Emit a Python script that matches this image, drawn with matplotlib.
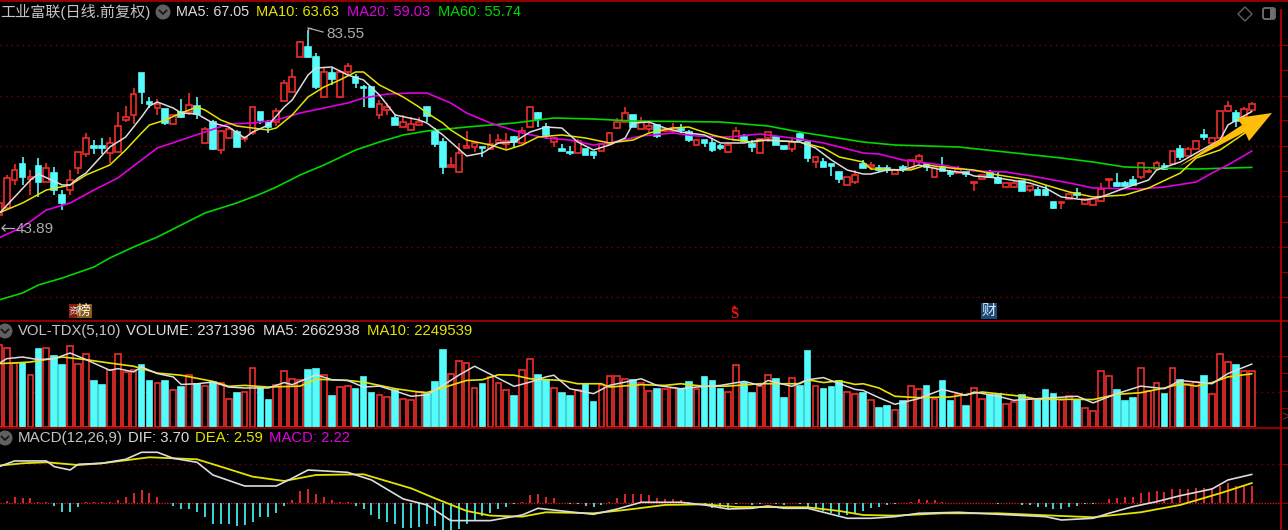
import matplotlib
matplotlib.use("Agg")
import matplotlib.pyplot as plt
from matplotlib.lines import Line2D
from matplotlib.patches import Polygon, Circle, Rectangle, FancyBboxPatch

W, H = 1288, 530

# ── Daily candles ─────────────────────────────────────────────────────────────
opens = [
    46.11, 47.52, 53.19, 56.43, 53.39, 56.02, 52.78, 54.60, 50.15, 51.16,
    55.62, 58.45, 60.07, 60.07, 58.65, 58.85, 65.33, 66.34, 74.85, 68.98,
    67.76, 67.56, 64.52, 66.95, 66.95, 68.17, 60.68, 64.93, 59.26, 61.69,
    62.90, 61.49, 62.70, 66.95, 64.72, 64.93, 69.18, 71.00, 78.08, 80.11,
    78.08, 69.99, 74.85, 69.99, 75.05, 74.04, 72.01, 72.01, 66.34, 67.36,
    65.74, 63.91, 63.31, 64.32, 67.96, 63.11, 60.88, 55.82, 54.81, 59.66,
    59.87, 59.87, 59.46, 60.68, 60.47, 61.89, 60.68, 63.91, 66.75, 63.91,
    60.88, 59.46, 58.85, 58.65, 59.46, 58.85, 59.06, 60.47, 63.71, 64.93,
    66.34, 63.51, 63.51, 64.32, 63.11, 63.11, 63.51, 62.90, 60.27, 61.28,
    60.68, 60.07, 58.85, 61.28, 61.89, 60.47, 58.65, 61.69, 61.89, 60.07,
    59.46, 62.50, 60.88, 56.83, 56.83, 56.43, 54.81, 52.18, 52.78, 56.43,
    55.82, 55.62, 55.62, 54.40, 55.82, 55.62, 57.03, 56.43, 53.79, 55.82,
    54.81, 54.60, 54.81, 52.58, 53.39, 54.81, 53.59, 51.77, 51.77, 52.99,
    51.16, 51.16, 51.16, 48.74, 48.53, 49.34, 50.56, 48.33, 48.13, 48.94,
    53.19, 52.58, 52.58, 53.19, 53.79, 54.81, 55.41, 56.02, 56.43, 59.46,
    58.05, 59.46, 62.30, 60.68, 61.69, 67.15, 66.75, 65.94, 67.36,
]
closes = [
    48.53, 53.59, 55.21, 53.79, 53.79, 52.78, 55.62, 51.16, 48.53, 53.19,
    58.85, 61.69, 59.66, 59.66, 60.68, 64.12, 65.94, 70.59, 71.00, 68.57,
    68.57, 64.72, 66.34, 65.94, 68.37, 66.55, 63.51, 59.46, 63.11, 63.51,
    59.87, 61.89, 67.96, 65.33, 63.91, 67.15, 72.82, 74.04, 81.12, 78.08,
    72.01, 75.05, 73.63, 75.05, 76.26, 72.82, 71.81, 67.96, 68.57, 67.96,
    64.32, 64.93, 64.52, 64.93, 66.14, 60.47, 55.82, 56.22, 58.65, 60.07,
    60.68, 59.66, 60.47, 61.28, 61.08, 60.88, 63.11, 67.96, 65.53, 62.30,
    61.69, 59.06, 58.65, 61.08, 58.25, 58.25, 60.47, 62.70, 64.93, 66.75,
    63.91, 64.93, 64.12, 62.09, 63.51, 63.71, 63.31, 61.28, 61.28, 60.68,
    59.26, 59.66, 60.27, 63.11, 61.08, 59.87, 61.49, 62.90, 60.27, 59.46,
    60.88, 61.28, 57.64, 57.84, 55.82, 56.02, 53.39, 53.79, 54.20, 55.62,
    56.22, 55.21, 55.21, 55.21, 55.41, 57.24, 58.05, 55.82, 55.62, 55.01,
    54.40, 55.41, 54.40, 52.78, 54.20, 53.79, 52.58, 52.58, 52.58, 50.96,
    51.97, 50.15, 50.15, 47.52, 48.74, 50.36, 50.15, 49.34, 49.34, 51.37,
    53.39, 51.97, 51.97, 52.18, 56.63, 55.01, 56.63, 55.41, 59.06, 57.84,
    59.46, 61.08, 61.89, 61.69, 67.15, 68.17, 65.13, 67.56, 68.57,
]
highs = [
    48.53, 54.20, 56.43, 57.84, 55.21, 57.64, 56.63, 55.82, 51.16, 55.21,
    58.85, 62.70, 61.28, 61.69, 61.89, 66.95, 68.17, 71.81, 74.85, 69.99,
    69.58, 67.56, 66.34, 69.58, 70.80, 69.99, 63.91, 65.33, 63.11, 63.91,
    63.31, 61.89, 67.96, 66.95, 65.33, 67.76, 73.43, 75.65, 81.32, 83.55,
    78.89, 75.86, 75.86, 75.45, 76.87, 74.64, 72.42, 72.01, 69.38, 68.77,
    66.55, 66.34, 65.94, 65.94, 67.96, 63.71, 61.69, 57.84, 60.68, 63.11,
    60.88, 59.87, 62.50, 62.50, 62.70, 62.09, 63.91, 67.96, 66.95, 64.72,
    61.89, 60.47, 60.07, 61.49, 59.46, 58.85, 60.47, 62.90, 65.74, 67.96,
    66.34, 65.94, 64.93, 64.32, 63.71, 64.72, 64.52, 63.31, 61.28, 61.28,
    61.69, 60.47, 60.68, 63.91, 62.50, 61.28, 61.49, 62.90, 61.89, 60.07,
    61.69, 62.90, 60.88, 57.84, 57.64, 56.43, 54.81, 53.79, 55.21, 57.24,
    56.83, 56.22, 56.22, 55.21, 56.22, 57.24, 58.45, 56.43, 55.62, 57.84,
    55.21, 56.02, 54.81, 52.78, 54.20, 55.21, 54.81, 52.58, 52.99, 52.99,
    51.97, 51.77, 52.18, 48.74, 48.74, 50.36, 51.57, 49.34, 49.34, 52.58,
    53.39, 54.60, 52.99, 54.00, 56.63, 55.41, 57.03, 56.63, 59.06, 60.27,
    59.87, 61.08, 63.51, 61.69, 67.15, 69.18, 67.36, 67.96, 68.98,
]
lows = [
    43.89, 47.52, 52.18, 52.18, 50.15, 49.75, 52.78, 50.15, 47.12, 50.15,
    54.40, 57.84, 58.45, 58.45, 56.63, 58.85, 64.93, 64.52, 68.57, 67.76,
    66.34, 64.32, 64.52, 65.74, 66.34, 65.53, 60.68, 59.26, 58.45, 61.69,
    59.87, 60.88, 62.30, 64.52, 62.70, 64.12, 69.18, 71.00, 78.08, 77.88,
    71.61, 69.99, 72.42, 69.78, 74.24, 71.81, 67.96, 67.96, 65.53, 66.34,
    64.32, 63.91, 63.31, 64.32, 64.93, 59.87, 54.40, 55.82, 54.81, 59.66,
    58.85, 57.84, 59.46, 60.68, 59.46, 59.87, 60.68, 63.91, 63.91, 61.49,
    59.87, 59.06, 58.25, 58.65, 58.25, 57.44, 59.06, 60.07, 63.51, 64.93,
    63.91, 63.51, 62.90, 61.69, 62.90, 62.70, 62.70, 60.88, 60.27, 59.87,
    58.85, 59.26, 58.65, 61.28, 60.88, 58.85, 58.65, 60.88, 60.27, 59.26,
    58.85, 61.28, 56.83, 55.62, 55.82, 54.00, 52.58, 52.18, 52.38, 55.62,
    55.21, 54.81, 54.60, 54.40, 54.81, 55.62, 56.43, 55.01, 53.79, 55.01,
    53.79, 54.60, 53.79, 50.96, 53.39, 53.79, 52.38, 51.77, 51.57, 50.96,
    50.76, 50.15, 49.95, 47.32, 47.32, 49.34, 49.55, 48.33, 48.13, 48.74,
    51.57, 51.77, 51.97, 52.18, 53.39, 54.81, 55.41, 55.21, 56.43, 57.24,
    58.05, 59.46, 61.28, 60.68, 61.69, 67.15, 63.91, 65.94, 67.36,
]

# ── Moving averages, read at the bars where they bend ─────────────────────────
ma5_idx = [0, 4, 5, 8, 9, 10, 11, 14, 16, 18, 19, 20, 22, 23, 25, 27, 29, 31, 32, 34,
           36, 37, 39, 40, 42, 44, 46, 48, 50, 53, 54, 56, 59, 61, 63, 65, 67, 69, 71, 73,
           75, 77, 79, 80, 82, 84, 86, 89, 91, 94, 96, 101, 103, 105, 107, 109, 110, 112,
           114, 116, 119, 122, 123, 126, 130, 132, 134, 137, 139, 142, 145, 146, 149, 151,
           154, 155, 158]
ma5_val = [46.31, 53.19, 54.40, 52.18, 52.18, 53.59, 54.60, 59.87, 61.89, 65.94, 68.17,
           68.98, 67.76, 66.75, 66.55, 64.72, 63.91, 61.69, 62.90, 64.32, 67.96, 69.38,
           74.44, 75.86, 76.06, 74.44, 73.43, 70.39, 66.34, 65.33, 64.72, 62.30, 58.05,
           58.65, 60.68, 60.88, 62.90, 63.91, 63.71, 60.88, 59.26, 60.27, 61.69, 64.72,
           64.93, 63.71, 62.90, 62.30, 60.68, 60.68, 61.28, 60.88, 59.66, 57.24, 55.21,
           54.40, 54.40, 55.21, 55.21, 56.22, 55.21, 54.60, 54.00, 53.59, 52.58, 51.57,
           49.75, 49.14, 49.75, 51.57, 53.19, 55.21, 56.83, 58.65, 61.28, 64.32, 67.05]

ma10_idx = [0, 3, 6, 9, 11, 14, 16, 18, 19, 21, 23, 25, 26, 28, 30, 34, 35, 37, 39, 41,
            43, 45, 46, 48, 51, 53, 54, 56, 57, 59, 62, 64, 66, 68, 71, 74, 77, 80, 82, 85,
            87, 90, 92, 95, 97, 101, 104, 106, 109, 110, 115, 117, 120, 123, 126, 130, 132,
            135, 138, 142, 145, 149, 151, 154, 158]
ma10_val = [46.51, 48.53, 51.16, 52.18, 54.20, 56.22, 59.26, 62.70, 64.32, 65.33, 66.75,
            67.96, 67.36, 65.33, 64.12, 63.31, 63.71, 66.34, 69.99, 72.01, 73.43, 75.05,
            75.05, 72.42, 69.99, 67.96, 66.75, 64.72, 63.31, 61.28, 60.27, 59.26, 60.27,
            61.89, 62.30, 61.69, 60.68, 61.28, 62.70, 63.71, 63.91, 62.30, 61.49, 60.88,
            61.28, 60.88, 59.66, 57.84, 56.83, 55.41, 55.21, 56.22, 55.62, 55.21, 54.20,
            53.19, 52.18, 50.76, 49.75, 50.15, 51.57, 54.60, 57.64, 59.26, 63.63]

ma20_idx = [0, 3, 6, 9, 12, 15, 18, 20, 23, 26, 29, 32, 35, 38, 41, 44, 46, 49, 52, 54,
            57, 59, 62, 66, 69, 72, 75, 77, 81, 85, 88, 92, 96, 101, 104, 109, 111, 114,
            119, 123, 127, 131, 135, 138, 144, 147, 151, 153, 155, 158]
ma20_val = [41.45, 43.68, 47.12, 48.53, 51.16, 53.59, 57.24, 59.66, 61.28, 62.90, 64.52,
            64.72, 65.33, 66.75, 67.76, 68.77, 69.78, 70.59, 70.80, 70.80, 68.77, 66.75,
            64.72, 62.70, 61.69, 61.28, 60.27, 60.68, 62.09, 62.70, 62.09, 61.89, 62.50,
            61.49, 60.68, 58.65, 58.45, 57.24, 56.22, 55.01, 54.81, 53.79, 52.58, 51.57,
            51.37, 51.77, 52.78, 54.60, 56.22, 59.03]

ma60_idx = [0, 3, 5, 8, 12, 14, 17, 20, 23, 26, 30, 33, 35, 38, 41, 45, 48, 51, 54, 59,
            65, 70, 75, 80, 91, 97, 101, 109, 113, 121, 127, 134, 138, 142, 151, 158]
ma60_val = [28.90, 30.32, 31.94, 33.35, 35.58, 37.40, 39.63, 41.65, 44.08, 46.51, 48.53,
            50.36, 51.77, 54.20, 56.22, 59.26, 60.88, 62.30, 63.11, 63.91, 64.72, 65.74,
            65.53, 65.13, 64.93, 64.12, 62.90, 60.88, 60.27, 59.87, 58.85, 57.64, 56.83,
            55.82, 55.41, 55.74]

price_grid = [80.5, 70.2, 60.07, 49.95, 39.63, 29.5]

# ── Volume (millions) ─────────────────────────────────────────────────────────
volume = [
    3.45, 3.36, 2.71, 2.71, 2.19, 3.31, 3.36, 3.00, 2.64, 3.41,
    2.68, 3.10, 1.95, 1.79, 2.40, 3.10, 2.33, 2.40, 2.64, 1.95,
    1.88, 1.95, 1.58, 1.69, 2.19, 1.83, 1.73, 1.90, 1.88, 1.20,
    1.44, 1.48, 2.51, 1.65, 1.16, 1.79, 2.37, 2.04, 1.97, 2.43,
    2.47, 2.19, 1.33, 1.69, 1.73, 1.59, 2.12, 1.44, 1.37, 1.27,
    1.58, 1.20, 1.16, 1.48, 1.41, 1.90, 3.27, 2.26, 2.79, 2.72,
    1.66, 1.83, 2.12, 1.88, 1.58, 1.33, 2.43, 2.89, 2.21, 1.97,
    1.66, 1.44, 1.33, 1.58, 1.83, 1.06, 1.76, 2.16, 2.16, 2.04,
    1.97, 1.88, 1.52, 1.59, 1.62, 1.65, 1.62, 1.90, 1.59, 2.12,
    1.95, 1.59, 1.47, 2.64, 1.88, 1.44, 1.72, 2.21, 2.04, 1.23,
    2.09, 1.73, 3.21, 1.72, 1.59, 1.69, 1.95, 1.47, 1.41, 1.44,
    1.16, 0.79, 0.89, 0.73, 1.10, 1.73, 1.62, 1.73, 1.20, 1.95,
    1.10, 1.38, 0.89, 1.66, 1.20, 1.34, 1.41, 0.99, 1.04, 1.34,
    1.20, 1.17, 1.58, 1.41, 1.16, 1.30, 1.13, 0.82, 0.68, 2.37,
    2.16, 1.58, 1.11, 1.23, 2.51, 1.52, 1.88, 1.38, 2.51, 2.00,
    1.83, 1.90, 2.16, 1.41, 3.10, 2.74, 2.64, 2.35, 2.37,
]

vol_ma5_idx = [0, 1, 3, 5, 7, 9, 11, 14, 15, 17, 18, 20, 22, 23, 25, 27, 29, 31, 34, 36,
               37, 40, 42, 44, 46, 48, 50, 52, 54, 56, 58, 60, 62, 65, 67, 69, 70, 72, 75,
               77, 81, 83, 86, 88, 91, 94, 96, 97, 100, 102, 104, 106, 108, 109, 111, 113,
               116, 119, 122, 123, 126, 128, 131, 136, 138, 141, 144, 147, 149, 151, 153,
               155, 158]
vol_ma5_val = [2.68, 2.89, 2.96, 2.85, 2.89, 3.13, 2.85, 2.40, 2.47, 2.33, 2.54, 2.26, 2.12,
               1.80, 1.83, 1.90, 1.69, 1.65, 1.65, 1.88, 1.79, 2.21, 2.00, 1.97, 1.69, 1.73,
               1.52, 1.30, 1.36, 1.76, 2.19, 2.57, 2.23, 1.72, 1.90, 2.12, 2.19, 1.62, 1.41,
               1.76, 2.04, 1.76, 1.62, 1.69, 1.76, 1.93, 1.76, 1.97, 1.72, 2.00, 2.09, 1.83,
               1.59, 1.55, 1.24, 0.96, 1.20, 1.59, 1.34, 1.48, 1.30, 1.13, 1.20, 1.30, 1.02,
               1.41, 1.73, 1.62, 1.97, 1.90, 1.83, 2.26, 2.66]

vol_ma10_idx = [0, 2, 4, 8, 11, 13, 17, 20, 23, 27, 29, 31, 34, 38, 40, 44, 46, 50, 53, 54,
                56, 59, 61, 63, 65, 67, 71, 73, 76, 77, 81, 84, 86, 89, 92, 96, 101, 102,
                104, 106, 108, 109, 111, 113, 116, 120, 124, 129, 131, 136, 138, 141, 144,
                147, 149, 151, 153, 155, 158]
vol_ma10_val = [2.68, 2.71, 2.75, 2.96, 2.85, 2.75, 2.57, 2.28, 2.19, 1.93, 1.72, 1.76,
                1.69, 1.73, 2.02, 1.97, 1.90, 1.62, 1.48, 1.46, 1.66, 1.97, 2.00, 2.21,
                2.19, 2.04, 1.97, 1.83, 1.83, 1.69, 1.79, 1.76, 1.83, 1.72, 1.73, 1.83,
                1.83, 2.00, 1.88, 1.95, 1.80, 1.83, 1.65, 1.30, 1.24, 1.27, 1.48, 1.30,
                1.17, 1.17, 1.16, 1.38, 1.45, 1.65, 1.83, 1.73, 1.88, 2.12, 2.25]

vol_grid = [1.5, 3.0]

# ── MACD ──────────────────────────────────────────────────────────────────────
dif_idx = [0, 2, 6, 7, 9, 10, 13, 16, 18, 20, 22, 25, 27, 31, 35, 37, 39, 44, 47, 51, 54,
           57, 62, 66, 68, 71, 75, 78, 81, 86, 89, 92, 95, 97, 99, 102, 104, 107, 110, 113,
           116, 121, 126, 132, 134, 138, 140, 143, 146, 149, 153, 155, 158]
dif_val = [4.70, 5.43, 5.43, 4.70, 4.27, 5.00, 5.13, 5.64, 6.54, 6.54, 5.77, 5.26, 3.63,
           2.22, 2.22, 3.21, 4.27, 3.97, 2.99, 0.56, -0.21, -2.22, -2.22, -1.50, -0.64,
           -0.98, -1.41, -0.73, 0.13, 0.13, -0.21, -0.73, -0.64, -0.34, -0.64, -0.64, -1.15,
           -1.92, -1.92, -1.71, -1.28, -1.15, -1.41, -1.71, -2.14, -1.92, -1.28, -0.43, 0.21,
           0.98, 1.84, 2.99, 3.70]

dea_idx = [0, 3, 6, 10, 13, 19, 25, 28, 32, 36, 40, 46, 52, 55, 59, 62, 66, 69, 75, 79, 81,
           84, 89, 93, 102, 106, 109, 113, 119, 126, 133, 138, 144, 149, 154, 158]
dea_val = [4.83, 5.13, 5.26, 4.91, 5.13, 5.90, 5.64, 4.70, 3.42, 2.86, 3.63, 3.72, 1.92,
           0.64, -0.98, -1.58, -1.71, -1.15, -1.28, -0.85, -0.60, -0.21, -0.13, -0.47, -0.51,
           -0.98, -1.50, -1.58, -1.28, -1.28, -1.58, -1.79, -1.15, -0.21, 1.28, 2.59]

macd_hist = [
    0.05, 0.30, 0.85, 0.64, 0.73, 0.21, 0.13, -0.30, -1.07, -1.07,
    -0.47, 0.13, 0.13, 0.21, 0.13, 0.47, 0.85, 1.28, 1.67, 1.32,
    0.85, 0.05, -0.30, -0.73, -0.73, -1.07, -1.71, -2.69, -2.65, -2.65,
    -2.90, -2.78, -2.35, -1.71, -1.71, -1.20, -0.34, 0.43, 1.62, 1.79,
    1.20, 0.85, 0.38, 0.13, 0.21, -0.30, -0.73, -1.50, -2.05, -2.35,
    -2.65, -3.12, -3.12, -3.00, -2.65, -2.90, -3.42, -3.42, -3.29, -2.65,
    -2.26, -1.58, -1.28, -0.73, -0.43, -0.13, 0.13, 1.07, 1.15, 0.85,
    0.64, 0.04, -0.13, -0.05, -0.30, -0.43, -0.21, 0.13, 0.64, 1.20,
    1.20, 1.15, 1.03, 0.64, 0.51, 0.51, 0.38, 0.13, 0.05, -0.05,
    -0.64, -0.64, -0.64, -0.05, 0.05, -0.26, -0.13, 0.09, -0.05, -0.21,
    0.05, -0.13, -0.64, -0.64, -0.98, -1.28, -1.50, -1.50, -1.41, -0.98,
    -0.56, -0.43, -0.21, -0.09, 0.05, 0.21, 0.56, 0.38, 0.43, 0.17,
    0.09, 0.05, 0.05, 0.05, 0.05, 0.03, -0.13, 0.05, 0.05, -0.21,
    -0.26, -0.43, -0.43, -0.73, -0.73, -0.43, -0.30, -0.13, -0.13, 0.03,
    0.51, 0.64, 0.85, 0.85, 1.28, 1.50, 1.62, 1.50, 1.79, 1.79,
    1.79, 1.92, 1.92, 2.00, 2.26, 2.56, 2.26, 2.22, 2.22,
]
macd_grid = [5.0]

# ── Colours ───────────────────────────────────────────────────────────────────
C_UP = "#F02C2C"
C_DOWN = "#54FCFC"
C_GRID = "#800000"
C_LINE = "#8C0000"
C_TEXT = "#C4C4C4"
C_MA5 = "#DCDCDC"
C_MA10 = "#E4E400"
C_MA20 = "#E000E0"
C_MA60 = "#00D800"

plt.rcParams["font.family"] = ["Liberation Sans", "Noto Sans CJK SC", "DejaVu Sans"]

fig = plt.figure(figsize=(W / 100, H / 100), dpi=100, facecolor="black")

# bar i sits at about -1.2 + 7.93 * i pixels, the plots stop at the right rule
x_lim = (1.23 / 7.93, (1281 + 1.23) / 7.93)


def panel(top, bottom, y_lim):
    ax = fig.add_axes([0, 1 - bottom / H, 1281 / W, (bottom - top) / H])
    ax.set_xlim(*x_lim)
    ax.set_ylim(*y_lim)
    ax.axis("off")
    return ax


def px_text(x, y, s, color=C_TEXT, size=10.7, **kw):
    fig.text(x / W, 1 - y / H, s, color=color, fontsize=size, va="center", ha="left", **kw)


def px_line(xs, ys, color=C_LINE, lw=1.0):
    fig.add_artist(Line2D([x / W for x in xs], [1 - y / H for y in ys], color=color, lw=lw))


def icon(x, y):
    fig.add_artist(Circle((x, H - y), 7.5, transform=None, facecolor="#606060", edgecolor="none"))
    px_line([x - 3.5, x, x + 3.5], [y - 1.5, y + 2, y - 1.5], color="#141414", lw=1.2)


def dotted(ax, values):
    ax.hlines(values, *x_lim, colors=C_GRID, linestyles=(0, (1, 3)), lw=1.0, zorder=1)


indices = list(range(len(closes)))
rising = [c >= o for o, c in zip(opens, closes)]
colors = [C_UP if r else C_DOWN for r in rising]
faces = ["black" if r else C_DOWN for r in rising]

# ── Price panel ───────────────────────────────────────────────────────────────
ax = panel(0, 320, (89.62 - 0.2024 * 320, 89.62))
dotted(ax, price_grid)
ax.vlines(indices, lows, highs, colors=colors, lw=1.2, zorder=2)
ax.bar(indices, [abs(c - o) for o, c in zip(opens, closes)],
       bottom=[min(o, c) for o, c in zip(opens, closes)], width=0.72,
       facecolor=faces, edgecolor=colors, lw=1.2, zorder=3)
ax.plot(ma60_idx, ma60_val, color=C_MA60, lw=1.2, zorder=4)
ax.plot(ma20_idx, ma20_val, color=C_MA20, lw=1.2, zorder=4)
ax.plot(ma10_idx, ma10_val, color=C_MA10, lw=1.1, zorder=5)
ax.plot(ma5_idx, ma5_val, color=C_MA5, lw=1.1, zorder=6)

# high / low call-outs
px_line([308, 308, 311], [33, 28, 28], color="#B0B0B0", lw=0.9)
px_line([308, 323], [28, 32], color="#B0B0B0", lw=0.9)
px_text(326, 34, "83.55", color="#ACACAC", size=11)
px_line([2, 14], [228, 228], color="#B0B0B0", lw=0.9)
px_line([5, 2, 5], [225, 228, 231], color="#B0B0B0", lw=0.9)
px_text(16, 229, "43.89", color="#ACACAC", size=11)

# gold arrow over the last bars
arrow_px = [(1178, 167), (1242, 125), (1237, 118), (1272, 113), (1249, 141), (1245, 132)]
fig.add_artist(Polygon([(x, H - y) for x, y in arrow_px], transform=None,
                       facecolor="#FFBE0A", edgecolor="none", zorder=20))

# event tags on the floor of the price panel
fig.add_artist(Rectangle((69, H - 318), 8, 14, transform=None, facecolor="#8B1A10", edgecolor="none"))
fig.add_artist(Rectangle((77, H - 318), 15, 14, transform=None, facecolor="#8B5A14", edgecolor="none"))
px_text(69, 311, "资", color="#E0E0E0", size=7)
px_text(77, 311, "榜", color="#F0F0F0", size=10)
fig.add_artist(Polygon([(731.5, H - 309), (734.5, H - 305), (737.5, H - 309)], transform=None,
                       facecolor="#F01010", edgecolor="none"))
fig.text(734.5 / W, 1 - 314.5 / H, "S", color="#F01010", fontsize=10.5, fontweight="bold",
         family=["Liberation Serif", "DejaVu Serif"], ha="center", va="center")
fig.add_artist(Rectangle((981, H - 319), 16, 16, transform=None, facecolor="#1A4A78", edgecolor="none"))
px_text(981.5, 311, "财", color="#D8E8F4", size=10.5)

# ── Volume panel ──────────────────────────────────────────────────────────────
vax = panel(322, 427, (0, 105 * 0.0423))
dotted(vax, vol_grid)
vax.bar(indices, volume, width=0.72, facecolor=faces, edgecolor=colors, lw=1.2, zorder=3)
vax.plot(vol_ma10_idx, vol_ma10_val, color=C_MA10, lw=1.2, zorder=4)
vax.plot(vol_ma5_idx, vol_ma5_val, color=C_MA5, lw=1.1, zorder=5)

# ── MACD panel ────────────────────────────────────────────────────────────────
max_ = panel(429, 530, (-26.7 / 7.8, 74.3 / 7.8))
dotted(max_, macd_grid)
max_.hlines([0], *x_lim, colors="#D01818", linestyles=(0, (1, 1)), lw=1.0, zorder=1)
max_.vlines(indices, 0, macd_hist, colors=[C_UP if v > 0 else "#40E8E8" for v in macd_hist],
            lw=1.3, zorder=2)
max_.plot(dea_idx, dea_val, color=C_MA10, lw=1.3, zorder=4)
max_.plot(dif_idx, dif_val, color=C_MA5, lw=1.2, zorder=5)

# ── Frame ─────────────────────────────────────────────────────────────────────
px_line([0, W], [0.5, 0.5], lw=1.5)
px_line([0, W], [320.7, 320.7], lw=1.5)
px_line([0, W], [428, 428], lw=1.5)
px_line([1281, 1281], [10, H], color="#A00000", lw=1.5)
for tick_y in [45, 70, 96, 120, 146, 171, 196, 222, 247, 272, 297, 356, 373, 391, 408, 464, 503]:
    px_line([1281, 1288], [tick_y, tick_y], lw=0.8)
px_text(1281, 417, ">", color="#6A3030", size=10)

# ── Headers ───────────────────────────────────────────────────────────────────
px_text(0, 12, "工业富联(日线.前复权)", size=10.9)
icon(163, 12)
px_text(176, 12, "MA5: 67.05", color=C_MA5, size=10.4)
px_text(256, 12, "MA10: 63.63", color=C_MA10, size=10.5)
px_text(347, 12, "MA20: 59.03", color=C_MA20, size=10.5)
px_text(438, 12, "MA60: 55.74", color=C_MA60, size=10.5)
fig.add_artist(Polygon([(1245, H - 7), (1252, H - 14), (1245, H - 21), (1238, H - 14)], transform=None,
                       facecolor="none", edgecolor="#606060", lw=1))
fig.add_artist(FancyBboxPatch((1263, H - 19), 12, 11, boxstyle="round,pad=0,rounding_size=2",
                              transform=None, facecolor="none", edgecolor="#707070", lw=1.3))
fig.add_artist(Rectangle((1270, H - 18), 4, 9, transform=None, facecolor="#707070", edgecolor="none"))

icon(5, 331)
px_text(18, 331, "VOL-TDX(5,10)")
px_text(126, 331, "VOLUME: 2371396", color=C_MA5)
px_text(263, 331, "MA5: 2662938", color=C_MA5)
px_text(367, 331, "MA10: 2249539", color=C_MA10)

icon(5, 438)
px_text(18, 438, "MACD(12,26,9)", size=10.9)
px_text(128, 438, "DIF: 3.70", color=C_MA5)
px_text(195, 438, "DEA: 2.59", color=C_MA10)
px_text(269, 438, "MACD: 2.22", color=C_MA20)

fig.savefig("out.png", dpi=100, facecolor="black")
